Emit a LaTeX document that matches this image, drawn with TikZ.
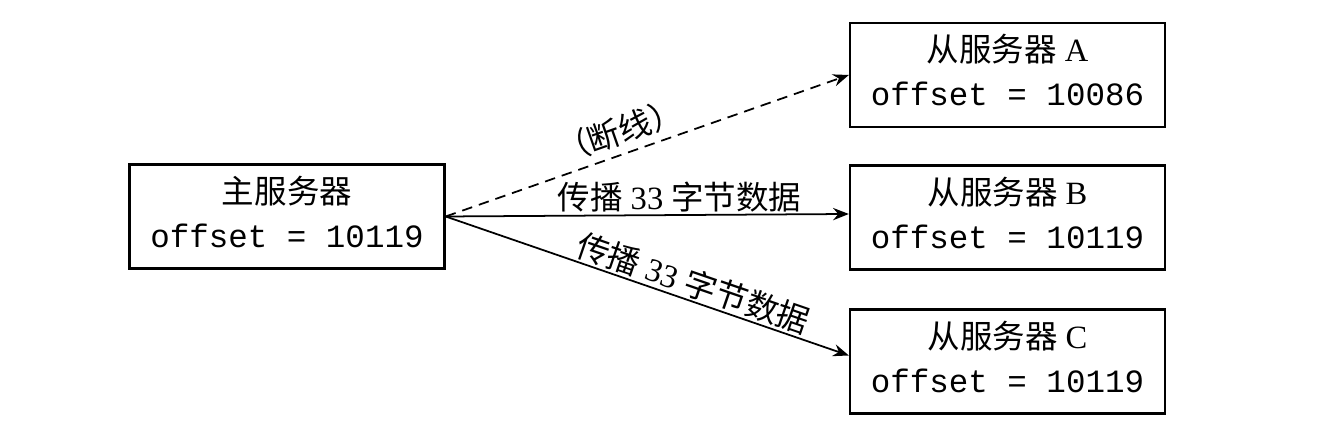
\documentclass[tikz,border=0pt]{standalone}
\usepackage{fontspec}
\setmainfont{Liberation Serif}
\setmonofont{Liberation Mono}
\newfontfamily\cjk{Noto Sans CJK SC}
\usetikzlibrary{arrows.meta}
\usetikzlibrary{calc}

\tikzset{
    server/.style={rectangle, draw=black, line width=1.3pt, minimum width=6.3cm, minimum height=2.08cm, inner sep=0pt, align=center, font=\fontsize{18.5}{25}\selectfont},
    link/.style={-{Stealth[length=9pt, width=7pt, inset=3pt]}, line width=1pt},
    lbl/.style={font=\fontsize{18.5}{22}\selectfont, inner sep=2pt}
}

\begin{document}
\begin{tikzpicture}
    \useasboundingbox (0,0) rectangle (26.86,8.76);
    \node (master) [server] at (5.74,4.43) {\begin{tabular}{c}
         {\cjk 主服务器}\\ \texttt{offset = 10119}
    \end{tabular}};
    \node (slvA) [server] at (20.15,7.26) {\begin{tabular}{c}
         {\cjk 从服务器} A\\ \texttt{offset = 10086}
    \end{tabular}};
    \node (slvB) [server] at (20.15,4.41) {\begin{tabular}{c}
         {\cjk 从服务器} B\\ \texttt{offset = 10119}
    \end{tabular}};
    \node (slvC) [server] at (20.15,1.53) {\begin{tabular}{c}
         {\cjk 从服务器} C\\ \texttt{offset = 10119}
    \end{tabular}};
    % connections
    \draw [link, dash pattern=on 6pt off 4pt] (master.east) -- (slvA.west) node [lbl, pos=0.45, sloped, above, inner sep=4pt] {\cjk （断线）};
    \draw [link] (master.east) -- ([yshift=0.07cm]slvB.west) node [lbl, pos=0.58, above, inner sep=1pt] {{\cjk 传播} 33 {\cjk 字节数据}};
    \draw [link] (master.east) -- ([yshift=0.12cm]slvC.west) node [lbl, pos=0.6, sloped, above, inner sep=1pt] {{\cjk 传播} 33 {\cjk 字节数据}};
\end{tikzpicture}
\end{document}
